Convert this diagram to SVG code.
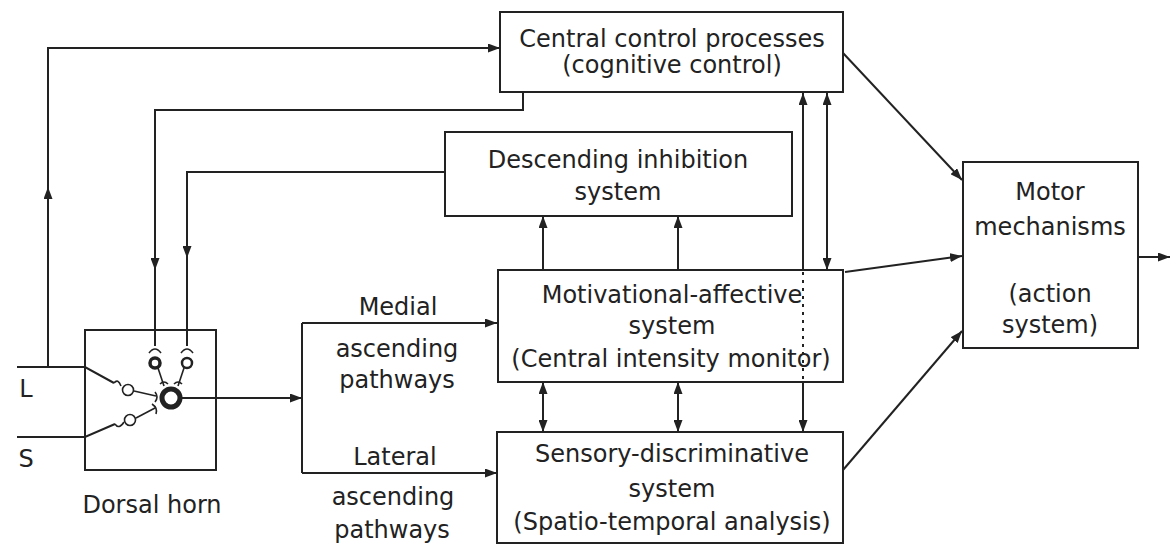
<svg xmlns="http://www.w3.org/2000/svg" width="1172" height="546" viewBox="0 0 1172 546">
<style>
.box{fill:#fff;stroke:#222;stroke-width:2}
.ln{fill:none;stroke:#222;stroke-width:2}
.arr{fill:none;stroke:#222;stroke-width:2;marker-end:url(#ah)}
.dbl{fill:none;stroke:#222;stroke-width:2;marker-start:url(#ah);marker-end:url(#ah)}
.dot{fill:none;stroke:#222;stroke-width:2;stroke-dasharray:3 5}
text{font-family:"DejaVu Sans","Liberation Sans",sans-serif;font-size:24px;fill:#222;text-anchor:middle}
.thin{fill:#fff;stroke:#222;stroke-width:1.6}
.syn{fill:none;stroke:#222;stroke-width:1.6}
</style>
<defs>
<marker id="ah" markerUnits="userSpaceOnUse" markerWidth="13" markerHeight="9" refX="12" refY="4.5" orient="auto-start-reverse">
<path d="M0,0 L12,4.5 L0,9 z" fill="#222"/>
</marker>
</defs>
<rect width="1172" height="546" fill="#fff"/>

<g id="connectors">
<path class="arr" d="M48,367 V187"/>
<path class="arr" d="M48,189 V48 H500"/>
<path class="arr" d="M523,92 V110 H155 V270"/>
<path class="ln" d="M155,268 V346"/>
<path class="arr" d="M445,172 H187 V258"/>
<path class="ln" d="M187,256 V346"/>
<path class="arr" d="M181,398 H302"/>
<path class="ln" d="M302,323 V473"/>
<path class="arr" d="M302,323 H497"/>
<path class="arr" d="M302,473 H497"/>
<path class="arr" d="M543,270 V216"/>
<path class="arr" d="M678,270 V216"/>
<path class="dbl" d="M543,382 V432"/>
<path class="dbl" d="M678,382 V432"/>
<path class="arr" d="M803,270 V93"/>
<path class="dot" d="M803,272 V382"/>
<path class="arr" d="M803,382 V432"/>
<path class="dbl" d="M827,93 V270"/>
<path class="arr" d="M843,53 L962,180"/>
<path class="arr" d="M845,272 L962,256"/>
<path class="arr" d="M843,470 L962,331"/>
<path class="arr" d="M1138,257 H1170"/>
</g>

<g id="central-control">
<rect class="box" x="500" y="12" width="343" height="80"/>
<text x="672" y="47">Central control processes</text>
<text x="672" y="73">(cognitive control)</text>
</g>

<g id="descending-inhibition">
<rect class="box" x="445" y="132" width="347" height="84"/>
<text x="618" y="168">Descending inhibition</text>
<text x="618" y="200">system</text>
</g>

<g id="motivational">
<rect class="box" x="498" y="270" width="345" height="112"/>
<path class="dot" d="M803,272 V382"/>
<text x="672" y="303">Motivational-affective</text>
<text x="672" y="334">system</text>
<text x="671" y="367">(Central intensity monitor)</text>
</g>

<g id="sensory">
<rect class="box" x="497" y="432" width="346" height="111"/>
<text x="672" y="462">Sensory-discriminative</text>
<text x="672" y="497">system</text>
<text x="672" y="530">(Spatio-temporal analysis)</text>
</g>

<g id="motor">
<rect class="box" x="963" y="162" width="175" height="186"/>
<text x="1050" y="200">Motor</text>
<text x="1050" y="235">mechanisms</text>
<text x="1050" y="302">(action</text>
<text x="1050" y="333">system)</text>
</g>

<g id="pathway-labels">
<text x="398" y="315">Medial</text>
<text x="397" y="357">ascending</text>
<text x="397" y="388">pathways</text>
<text x="395" y="465">Lateral</text>
<text x="393" y="505">ascending</text>
<text x="392" y="538">pathways</text>
</g>

<g id="inputs">
<path class="ln" d="M17,367 H85 L114,383"/>
<path class="ln" d="M17,437 H85 L115,424"/>
<text x="26" y="397">L</text>
<text x="26" y="467">S</text>
</g>

<g id="dorsal-horn">
<rect class="box" x="85" y="330" width="131" height="140" fill="none" style="fill:none"/>
<path class="syn" d="M149,353 Q155,345 161,353"/>
<path class="syn" d="M181,353 Q187,345 193,353"/>
<circle cx="155" cy="363" r="5" fill="#fff" stroke="#222" stroke-width="3.5"/>
<circle cx="187" cy="363" r="5" fill="#fff" stroke="#222" stroke-width="2.5"/>
<path class="syn" d="M158,368 L164,386"/>
<path class="syn" d="M184,368 L178,386"/>
<path class="syn" d="M160,384 Q164,380 168,384"/>
<path class="syn" d="M174,384 Q178,380 182,384"/>
<circle cx="128" cy="390" r="5.5" class="thin"/>
<circle cx="130" cy="420" r="5.5" class="thin"/>
<path class="syn" d="M114,383 Q118,378 121,386"/>
<path class="syn" d="M115,424 Q119,430 124,422"/>
<path class="syn" d="M134,391 L156,396"/>
<path class="syn" d="M155,392 Q159,397 155,402"/>
<path class="syn" d="M136,418 L155,408"/>
<path class="syn" d="M152,404 Q158,408 156,414"/>
<circle cx="171" cy="398" r="9" fill="#fff" stroke="#222" stroke-width="5"/>
<text x="152" y="513">Dorsal horn</text>
</g>
</svg>
